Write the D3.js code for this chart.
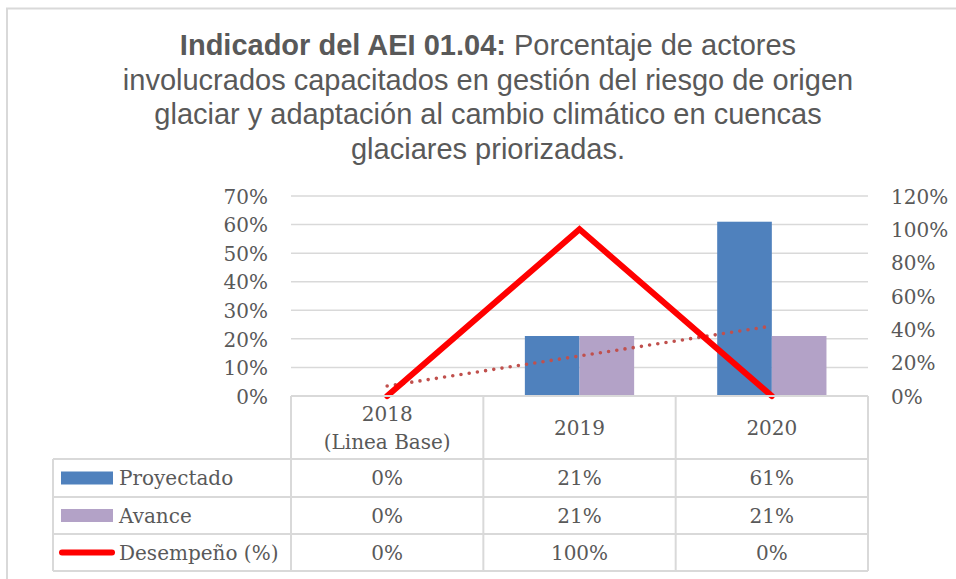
<!DOCTYPE html>
<html>
<head>
<meta charset="utf-8">
<script src="https://cdn.jsdelivr.net/npm/d3@7"></script>
<style>
body { margin: 0; background: #fff; }
svg text { fill: #595959; }
</style>
</head>
<body>
<div id="chart"></div>
<script>
var width = 956;
var height = 579;

// data
var categories = ["2018", "2019", "2020"];
var categoryLabels = [["2018", "(Linea Base)"], ["2019"], ["2020"]];
var seriesNames = ["Proyectado", "Avance"];
var proyectado = [0, 0.21, 0.61];
var avance = [0, 0.21, 0.21];
var desempeno = [0, 1.0, 0];
var desempenoName = "Desempeño (%)";
var leftTicks = [0, 0.1, 0.2, 0.3, 0.4, 0.5, 0.6, 0.7];
var rightTicks = [0, 0.2, 0.4, 0.6, 0.8, 1.0, 1.2];
var titleBold = "Indicador del AEI 01.04:";
var titleLines = [" Porcentaje de actores",
  "involucrados capacitados en gestión del riesgo de origen",
  "glaciar y adaptación al cambio climático en cuencas",
  "glaciares priorizadas."];

var colors = { Proyectado: "#4F81BD", Avance: "#B3A2C7" };
var gridColor = "#D9D9D9";
var serif = "'DejaVu Serif', serif";

var svg = d3.select("#chart").append("svg")
  .attr("width", width)
  .attr("height", height);

// chart frame (only left and top edges visible in the crop)
svg.append("path")
  .attr("d", "M7,579 V8.5 H956")
  .attr("fill", "none")
  .attr("stroke", gridColor)
  .attr("stroke-width", 2);

// title
var title = svg.append("text")
  .attr("text-anchor", "middle")
  .style("font-family", "'Liberation Sans', Arial, sans-serif")
  .style("font-size", "29px");
var t1 = title.append("tspan").attr("x", 488).attr("y", 55);
t1.append("tspan").attr("font-weight", "bold").text(titleBold);
t1.append("tspan").text(titleLines[0]);
titleLines.slice(1).forEach(function(line, i) {
  title.append("tspan").attr("x", 488).attr("y", 55 + (i + 1) * 34.7).text(line);
});

// plot area
var plot = { left: 291, right: 868, top: 196, bottom: 396 };

var x = d3.scaleBand()
  .domain(categories)
  .range([plot.left, plot.right]);

var x1 = d3.scaleBand()
  .domain(seriesNames)
  .range([0, x.bandwidth()])
  .paddingOuter(0.76);

var yLeft = d3.scaleLinear()
  .domain([0, 0.7])
  .range([plot.bottom, plot.top]);

var yRight = d3.scaleLinear()
  .domain([0, 1.2])
  .range([plot.bottom, plot.top]);

var pct = d3.format(".0%");

// gridlines
svg.append("g")
  .selectAll("line")
  .data(leftTicks.slice(1))
  .enter().append("line")
  .attr("x1", plot.left)
  .attr("x2", plot.right)
  .attr("y1", function(d) { return yLeft(d); })
  .attr("y2", function(d) { return yLeft(d); })
  .attr("stroke", gridColor)
  .attr("stroke-width", 1.5);

// left axis
var gLeft = svg.append("g")
  .attr("transform", "translate(" + (plot.left - 23) + ",0)")
  .call(d3.axisLeft(yLeft).tickValues(leftTicks).tickFormat(pct).tickSize(0).tickPadding(0));
gLeft.select(".domain").remove();
gLeft.selectAll("text")
  .style("font-family", serif)
  .style("font-size", "20px")
  .attr("fill", "#595959")
  .attr("dy", "0.36em");

// right axis
var gRight = svg.append("g")
  .attr("transform", "translate(" + (plot.right + 23) + ",0)")
  .call(d3.axisRight(yRight).tickValues(rightTicks).tickFormat(pct).tickSize(0).tickPadding(0));
gRight.select(".domain").remove();
gRight.selectAll("text")
  .style("font-family", serif)
  .style("font-size", "20px")
  .attr("fill", "#595959")
  .attr("dy", "0.36em");

// bars
var barData = categories.map(function(c, i) {
  return [
    { cat: c, series: "Proyectado", value: proyectado[i] },
    { cat: c, series: "Avance", value: avance[i] }
  ];
});

svg.append("g")
  .selectAll("g")
  .data(barData)
  .enter().append("g")
  .attr("transform", function(d) { return "translate(" + x(d[0].cat) + ",0)"; })
  .selectAll("rect")
  .data(function(d) { return d; })
  .enter().append("rect")
  .attr("x", function(d) { return x1(d.series); })
  .attr("width", x1.bandwidth())
  .attr("y", function(d) { return yLeft(d.value); })
  .attr("height", function(d) { return yLeft(0) - yLeft(d.value); })
  .attr("fill", function(d) { return colors[d.series]; });

// linear trendline of Avance (like Excel's)
var n = avance.length;
var mx = d3.mean(d3.range(n));
var my = d3.mean(avance);
var slope = d3.sum(d3.range(n), function(i) { return (i - mx) * (avance[i] - my); }) /
  d3.sum(d3.range(n), function(i) { return (i - mx) * (i - mx); });
var intercept = my - slope * mx;
var center = function(c) { return x(c) + x.bandwidth() / 2; };

svg.append("line")
  .attr("x1", center(categories[0]))
  .attr("x2", center(categories[n - 1]))
  .attr("y1", yLeft(intercept))
  .attr("y2", yLeft(intercept + slope * (n - 1)))
  .attr("stroke", "#C0504D")
  .attr("stroke-width", 3.6)
  .attr("stroke-linecap", "round")
  .attr("stroke-dasharray", "0,8.3");

// desempeño line on right axis
var line = d3.line()
  .x(function(d, i) { return center(categories[i]); })
  .y(function(d) { return yRight(d); });

svg.append("path")
  .datum(desempeno)
  .attr("d", line)
  .attr("fill", "none")
  .attr("stroke", "#FF0000")
  .attr("stroke-width", 6)
  .attr("stroke-linecap", "round");

// data table
var rowY = [396, 459, 497, 534, 571];
var tableLeft = 53;
var table = svg.append("g");
var tl = function(x1_, y1_, x2_, y2_) {
  table.append("line")
    .attr("x1", x1_).attr("y1", y1_).attr("x2", x2_).attr("y2", y2_)
    .attr("stroke", gridColor).attr("stroke-width", 2);
};
// horizontal lines
tl(plot.left, rowY[0], plot.right, rowY[0]);
rowY.slice(1).forEach(function(y) { tl(tableLeft, y, plot.right, y); });
// vertical lines
tl(tableLeft, rowY[1], tableLeft, rowY[4]);
categories.forEach(function(c) { tl(x(c), rowY[0], x(c), rowY[4]); });
tl(plot.right, rowY[0], plot.right, rowY[4]);

// header labels
categories.forEach(function(c, i) {
  var lines = categoryLabels[i];
  var midY = (rowY[0] + rowY[1]) / 2;
  lines.forEach(function(l, j) {
    table.append("text")
      .attr("x", center(c))
      .attr("y", midY + (j - (lines.length - 1) / 2) * 28)
      .attr("dy", "0.36em")
      .attr("text-anchor", "middle")
      .style("font-family", serif)
      .style("font-size", "20px")
      .text(l);
  });
});

// rows
var rows = [
  { name: "Proyectado", values: proyectado, kind: "bar" },
  { name: "Avance", values: avance, kind: "bar" },
  { name: desempenoName, values: desempeno, kind: "line" }
];

rows.forEach(function(r, i) {
  var midY = (rowY[i + 1] + rowY[i + 2]) / 2;
  if (r.kind === "bar") {
    table.append("rect")
      .attr("x", 61).attr("y", midY - 6.5)
      .attr("width", 52).attr("height", 13)
      .attr("fill", colors[r.name]);
  } else {
    table.append("line")
      .attr("x1", 62).attr("x2", 112)
      .attr("y1", midY).attr("y2", midY)
      .attr("stroke", "#FF0000")
      .attr("stroke-width", 6)
      .attr("stroke-linecap", "round");
  }
  table.append("text")
    .attr("x", 119)
    .attr("y", midY)
    .attr("dy", "0.36em")
    .style("font-family", serif)
    .style("font-size", "20px")
    .text(r.name);
  r.values.forEach(function(v, j) {
    table.append("text")
      .attr("x", center(categories[j]))
      .attr("y", midY)
      .attr("dy", "0.36em")
      .attr("text-anchor", "middle")
      .style("font-family", serif)
      .style("font-size", "20px")
      .text(pct(v));
  });
});
</script>
</body>
</html>
